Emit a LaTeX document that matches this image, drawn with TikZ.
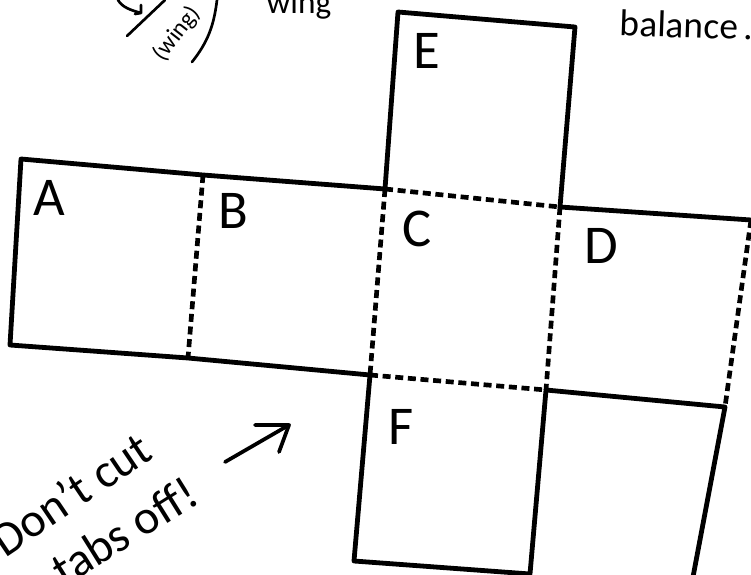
\documentclass[tikz,border=0pt]{standalone}
\usepackage{fontspec}
\setmainfont{Carlito}
\usetikzlibrary{positioning, calc}
\tikzset{
  foldLine/.style={line width=3.5pt, black, line cap=butt, dash pattern=on 6pt off 3.5pt},
  cutLine/.style={line width=3.6pt, black, line join=round, line cap=round},
  penLine/.style={line width=2pt, black, line cap=round, line join=round},
  faceLabel/.style={font=\fontsize{41}{41}\selectfont, inner sep=0pt},
  noteLabel/.style={font=\fontsize{36}{36}\selectfont, inner sep=0pt}
}
\begin{document}
\begin{tikzpicture}[x=0.75pt, y=-0.75pt]
            \useasboundingbox (0,0) rectangle (751,575);
            \clip (0,0) rectangle (751,575);
            % corners of the net
            \coordinate (aTop) at (21,159);
            \coordinate (aBot) at (10,345);
            \coordinate (bTop) at (203,175);
            \coordinate (bBot) at (188,358);
            \coordinate (cTop) at (385,189);
            \coordinate (cBot) at (370,375);
            \coordinate (dTop) at (560,207);
            \coordinate (dBot) at (546,390);
            \coordinate (rTop) at (751,220);
            \coordinate (rBot) at (725,407);
            \coordinate (eLeft) at (398,12);
            \coordinate (eRight) at (575,27);
            \coordinate (fLeft) at (354,561);
            \coordinate (fRight) at (530,574);
            \coordinate (tabEnd) at (693,577);
            % solid outline
            \draw[cutLine] (cBot) -- (bBot) -- (aBot) -- (aTop) -- (bTop) -- (cTop) -- (eLeft) -- (eRight) -- (dTop) -- (rTop);
            \draw[cutLine] (cBot) -- (fLeft) -- (fRight) -- (dBot) -- (rBot) -- (tabEnd);
            % fold lines
            \draw[foldLine] (bTop) -- (bBot);
            \draw[foldLine] (cTop) -- (cBot);
            \draw[foldLine] (dTop) -- (dBot);
            \draw[foldLine] (cTop) -- (dTop);
            \draw[foldLine] (cBot) -- (dBot);
            \draw[foldLine] (rTop) -- (rBot);
            % face letters
            \node[faceLabel] (labelA) at (49,198) {A};
            \node[faceLabel] (labelB) at (233,211) {B};
            \node[faceLabel] (labelC) at (417,229) {C};
            \node[faceLabel] (labelD) at (601,246) {D};
            \node[faceLabel] (labelE) at (427,51) {E};
            \node[faceLabel] (labelF) at (401,427) {F};
            % notes
            \node[font=\fontsize{28}{28}\selectfont, inner sep=0pt, rotate=-2] (balanceNote) at (687,25) {balance\,.};
            \node[font=\fontsize{25}{25}\selectfont, inner sep=0pt] (wingNote) at (299,5) {wing};
            \node[font=\fontsize{18}{18}\selectfont, inner sep=0pt, rotate=52] (wingTag) at (177,34) {(wing)};
            \node[noteLabel, rotate=34] (cutNote) at (71,494) {Don't cut};
            \node[noteLabel, rotate=32] (tabsNote) at (124,531) {tabs off!};
            % arrow beside the note
            \coordinate (arrowTail) at (225,462);
            \coordinate (arrowHead) at (289,425);
            \coordinate (arrowBarbA) at (255,425);
            \coordinate (arrowBarbB) at (279,452);
            \draw[penLine, line width=2.8pt] (arrowTail) -- (arrowHead);
            \draw[penLine, line width=2.8pt] (arrowBarbA) -- (arrowHead) -- (arrowBarbB);
            % pieces of the drawing above
            \coordinate (wingLineA) at (127,36);
            \coordinate (wingLineB) at (165,0);
            \coordinate (wingArcA) at (192,62);
            \coordinate (wingArcB) at (217,0);
            \coordinate (hookA) at (118,0);
            \coordinate (hookB) at (141,5);
            \draw[penLine] (wingLineA) -- (wingLineB);
            \draw[penLine] (wingArcA) .. controls (208,42) and (214,25) .. (wingArcB);
            \draw[penLine] (hookA) .. controls (122,7) and (130,10) .. (141,13) (135,14) -- (141,13) -- (hookB);
\end{tikzpicture}
\end{document}
